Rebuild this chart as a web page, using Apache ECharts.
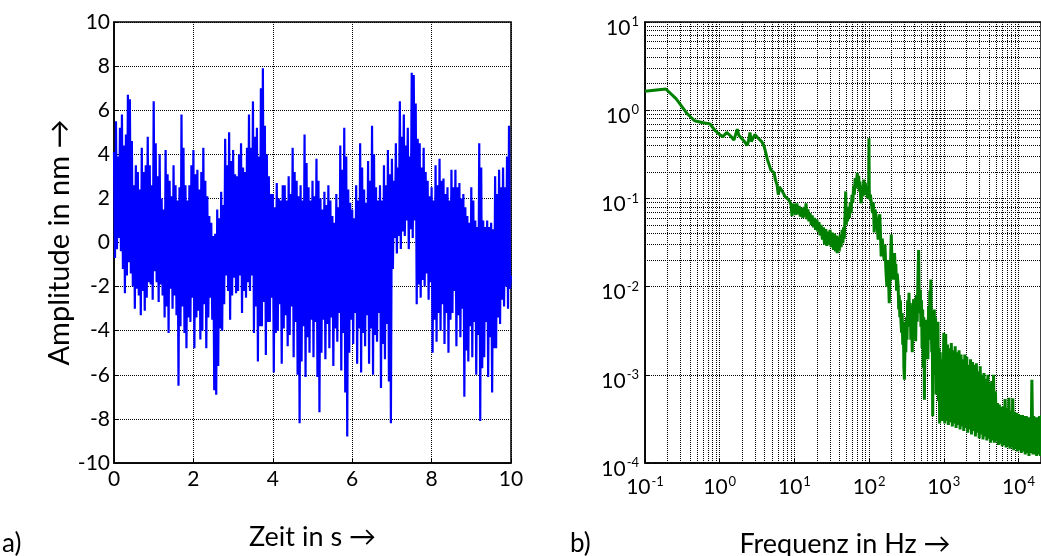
<!DOCTYPE html>
<html>
<head>
<meta charset="utf-8">
<script src="https://cdn.jsdelivr.net/npm/echarts@6/dist/echarts.min.js"></script>
<style>
html,body{margin:0;padding:0;background:#fff;}
#chart{width:1041px;height:556px;}
</style>
</head>
<body>
<div id="chart"></div>
<script>
// ---- Panel a): time signal, sampled every 0.025 s from 0 to 10 s ----
const timeStep = 0.025;
const amplitude = [
 4.1,-0.7,5.5,-0.3, 3.9,0.2,5.2,-0.4, 5.8,-1.2,4.4,-2.3, 4.9,-1.5,6.7,-0.9, 6.5,-1.4,4.6,-2.0,
 2.6,-3.0,3.5,-2.1, 3.2,-2.4,2.4,-3.3, 4.3,-2.2,3.2,-3.1, 3.5,-2.5,4.8,-1.8, 3.5,-1.9,2.6,-2.6,
 6.4,-1.3,4.5,-1.8, 3.0,-2.7,4.0,-1.9, 2.0,-2.4,1.5,-3.4, 4.2,-2.9,3.1,-4.1, 2.8,-2.1,2.1,-3.0,
 3.5,-2.4,2.6,-3.3, 1.9,-6.5,2.5,-3.8, 5.8,-2.9,4.3,-4.1, 2.6,-4.8,1.9,-3.4, 2.6,-3.6,3.5,-2.5,
 4.2,-4.8,3.1,-3.4, 3.3,-3.1,2.4,-4.4, 3.2,-4.0,4.3,-2.8, 2.8,-4.8,2.1,-3.4, 1.2,-2.5,0.9,-3.5,
 0.3,-6.7,0.4,-6.9, 1.5,-5.6,1.1,-3.9, 2.3,-4.0,1.7,-2.8, 4.7,-1.5,3.5,-2.2, 5.0,-3.5,3.7,-2.4,
 4.2,-1.6,3.1,-2.3, 3.0,-2.2,4.0,-1.5, 4.5,-3.2,3.4,-2.2, 3.2,-2.5,4.3,-1.8, 5.8,-2.2,4.3,-1.5,
 6.4,-4.1,4.8,-2.9, 5.2,-5.4,3.9,-3.8, 7.0,-3.8,7.9,-2.7, 5.3,-5.1,4.0,-3.6, 3.0,-3.6,2.2,-2.5,
 2.2,-5.9,1.6,-4.1, 2.7,-4.0,2.0,-2.8, 1.9,-5.5,2.6,-3.9, 2.6,-3.3,1.9,-4.7, 3.0,-4.2,2.2,-2.9,
 4.3,-5.2,3.2,-3.6, 2.8,-6.0,2.1,-8.2, 2.6,-5.4,1.9,-3.8, 4.9,-6.1,3.6,-4.3, 2.5,-5.0,1.9,-3.5,
 2.8,-5.2,2.1,-3.6, 3.8,-6.1,2.8,-7.7, 2.0,-5.0,1.5,-3.5, 2.3,-5.3,1.7,-3.7, 2.6,-4.8,1.9,-3.4,
 1.2,-5.6,0.9,-3.9, 2.2,-4.5,1.6,-3.2, 4.4,-5.8,3.3,-4.1, 5.2,-6.8,3.9,-8.8, 2.4,-5.0,1.8,-3.5,
 1.5,-4.6,1.1,-3.2, 2.6,-5.5,1.9,-3.9, 4.5,-5.9,3.4,-4.1, 2.4,-4.7,1.8,-3.3, 3.7,-5.5,2.8,-3.9,
 5.3,-6.0,4.0,-4.2, 2.5,-4.5,1.9,-3.2, 2.6,-6.6,1.9,-4.6, 3.5,-5.3,2.6,-3.7, 4.2,-6.3,3.1,-8.2,
 3.8,-1.2,2.8,0.2, 4.5,-0.5,3.4,0.3, 6.4,-0.3,4.8,0.5, 5.8,0.3,4.4,1.0, 5.2,-0.3,3.9,0.6,
 7.7,0.2,7.6,1.0, 6.3,-2.8,4.7,-1.9, 4.5,-2.5,3.4,-1.7, 4.3,-2.0,3.2,-1.4, 2.8,-2.6,2.1,-1.8,
 2.5,-5.0,1.9,-3.5, 3.5,-4.5,2.6,-3.2, 3.8,-4.0,2.8,-2.8, 2.9,-4.6,2.2,-3.2, 2.5,-5.0,1.9,-3.5,
 3.3,-3.2,2.5,-2.2, 3.3,-4.7,2.5,-3.3, 2.7,-4.3,2.0,-3.0, 2.2,-7.0,1.6,-4.9, 1.2,-5.4,0.9,-3.8,
 2.5,-5.2,1.9,-3.6, 1.0,-6.0,0.7,-4.2, 4.5,-8.1,3.4,-5.7, 1.0,-5.2,0.7,-3.6, 1.0,-6.1,0.7,-4.3,
 0.9,-6.8,0.6,-4.8, 3.0,-4.8,2.2,-3.4, 3.3,-3.7,2.5,-2.6, 3.4,-2.9,2.5,-2.0, 3.9,-3.0,5.3,-2.1,
 -1.5
];
const timeTicks = [0, 10, 2];       // min, max, step
const ampTicks = [-10, 10, 2];

// ---- Panel b): amplitude spectrum [frequency in Hz, amplitude] ----
const spectrumLow = [
 [0.1,1.64],[0.19,1.74],[0.26,1.35],[0.3,1.15],[0.36,0.93],[0.46,0.76],[0.6,0.72],[0.74,0.70],
 [0.85,0.60],[1.0,0.53],[1.1,0.50],[1.24,0.56],[1.4,0.51],[1.55,0.46],[1.72,0.61],[1.8,0.52],
 [1.91,0.50],[2.1,0.45],[2.34,0.40],[2.45,0.46],[2.54,0.56],[2.65,0.44],[2.73,0.45],[2.96,0.53],
 [3.2,0.49],[3.4,0.50],[3.65,0.44],[3.93,0.39],[4.1,0.34],[4.36,0.275],[4.6,0.24],[4.83,0.21],
 [5.1,0.20],[5.34,0.195],[5.6,0.16],[5.85,0.143],[6.1,0.11],[6.3,0.135],[6.6,0.13],[6.9,0.12],
 [7.2,0.115],[7.5,0.105],[7.9,0.10],[8.2,0.098],[8.6,0.093],[9.0,0.085],[9.3,0.063],[9.5,0.08],[9.8,0.087]
];
const spectrumMid = [
 [10.0,0.085],[10.4,0.065],[10.8,0.088],[11.2,0.066],[11.6,0.082],[12.0,0.062],[12.6,0.078],[13.0,0.06],
 [13.5,0.08],[14.0,0.062],[14.3,0.088],[14.7,0.058],[15.2,0.075],[15.6,0.055],[16.2,0.068],[16.8,0.05],
 [17.3,0.064],[18.0,0.047],[18.6,0.06],[19.2,0.044],[20.0,0.058],[20.6,0.042],[21.3,0.054],[22.0,0.038],
 [22.8,0.05],[23.7,0.034],[24.5,0.047],[25.3,0.03],[26.3,0.045],[27.2,0.029],[28.0,0.042],[29.0,0.03],
 [30.0,0.044],[31.0,0.028],[32.2,0.041],[33.3,0.026],[34.5,0.04],[35.5,0.025],[36.5,0.038],[37.5,0.024],
 [38.6,0.037],[39.8,0.025],[41.0,0.039],[42.2,0.028],[43.5,0.044],[44.6,0.031],[45.5,0.047],[46.5,0.035],
 [47.5,0.06],[48.6,0.12],[49.5,0.05],[50.5,0.075],[51.5,0.055],[53,0.08],[54.5,0.06],[56,0.09],
 [57.5,0.068],[59,0.11],[60.5,0.09],[62,0.14],[63.5,0.11],[65,0.17],[66.5,0.13],[68,0.16],
 [69.5,0.195],[71,0.14],[72.5,0.18],[74,0.12],[75.5,0.155],[77,0.1],[78.5,0.088],[80,0.12],
 [81.5,0.14],[83,0.105],[85,0.163],[87,0.12],[89,0.15],[91,0.11],[93,0.13],[95,0.1],
 [97,0.137],[98.5,0.12],[99.5,0.48],[100.5,0.12],[102,0.097],[104,0.11]
];
const spectrumUpper = [
 [111,0.068],[114,0.09],[117,0.041],[120,0.075],[124,0.063],[128,0.05],[132,0.034],[135,0.055],
 [139,0.066],[142,0.04],[145,0.022],[150,0.035],[155,0.025],[159,0.02],[163,0.03],[168,0.015],
 [173,0.01],[178,0.02],[182,0.012],[186,0.0065],[190,0.012],[194,0.02],[198,0.039],[202,0.02],
 [206,0.012],[210,0.017],[214,0.012],[219,0.024],[224,0.015],[228,0.018],[233,0.009],[238,0.014],
 [245,0.01],[249,0.0055],[253,0.008],[258,0.0045],[262,0.007],[267,0.004],[272,0.003],[277,0.005],
 [282,0.0022],[287,0.004],[292,0.0012],[297,0.00088],[302,0.002],[306,0.003],[310,0.0018],[316,0.0045],
 [322,0.0025],[328,0.007],[334,0.0035],[342,0.0085],[348,0.004],[355,0.0065],[362,0.0025],[370,0.0055],
 [378,0.0018],[386,0.005],[395,0.0072],[403,0.003],[412,0.006],[420,0.0024],[430,0.008],[440,0.004],
 [450,0.012],[460,0.026],[468,0.008],[476,0.005],[485,0.0092],[494,0.0035],[503,0.007],[512,0.002],
 [521,0.0055],[530,0.0012],[540,0.0045],[550,0.00052],[560,0.003],[570,0.0015],[580,0.0042],[590,0.0022],
 [600,0.0036],[612,0.0015],[625,0.006],[637,0.0025],[650,0.009],[660,0.003],[670,0.012],[680,0.0035],
 [690,0.0018],[700,0.0055],[710,0.00034],[720,0.004],[733,0.0012],[746,0.0055],[760,0.001],[775,0.0045],
 [790,0.0006],[805,0.003],[820,0.0008],[835,0.004],[850,0.0005],[865,0.002],[880,0.00028],[895,0.0018],
 [910,0.0004],[925,0.0015],[940,0.0003],[955,0.0012],[970,0.00035],[985,0.001]
];
const spectrumHigh = [
 [1000,3.0e-3],[1030,2.8e-4],[1060,2.9e-3],[1090,3.0e-4],[1120,2.2e-3],[1150,2.7e-4],[1190,2.0e-3],[1220,2.9e-4],
 [1260,2.3e-3],[1300,2.6e-4],[1340,1.9e-3],[1380,2.8e-4],[1420,2.1e-3],[1460,2.5e-4],[1500,1.8e-3],[1550,2.7e-4],
 [1600,1.9e-3],[1650,2.4e-4],[1700,1.7e-3],[1750,2.6e-4],[1800,1.5e-3],[1850,2.3e-4],[1910,1.7e-3],[1970,2.5e-4],
 [2030,1.6e-3],[2090,2.2e-4],[2150,1.3e-3],[2220,2.4e-4],[2280,1.5e-3],[2350,2.1e-4],[2420,1.4e-3],[2500,2.3e-4],
 [2570,1.3e-3],[2650,2.0e-4],[2730,1.35e-3],[2810,2.2e-4],[2890,1.1e-3],[2980,1.9e-4],[3070,1.25e-3],[3160,2.1e-4],
 [3260,1.0e-3],[3350,1.85e-4],[3450,1.05e-3],[3560,2.0e-4],[3660,9e-4],[3770,1.8e-4],[3890,1.0e-3],[4000,1.9e-4],
 [4120,8e-4],[4250,1.7e-4],[4370,8.5e-4],[4500,1.8e-4],[4640,1.0e-3],[4780,1.7e-4],[4920,6.5e-4],[5070,1.75e-4],
 [5220,4.8e-4],[5380,1.6e-4],[5540,4.6e-4],[5700,1.65e-4],[5880,4.3e-4],[6050,1.55e-4],[6230,4.4e-4],[6420,1.6e-4],
 [6610,5.3e-4],[6810,1.5e-4],[7020,4.2e-4],[7230,1.55e-4],[7440,5.5e-4],[7670,1.45e-4],[7900,3.9e-4],[8130,1.5e-4],
 [8380,5.4e-4],[8630,1.4e-4],[8890,3.8e-4],[9150,1.45e-4],[9430,3.7e-4],[9710,1.35e-4],[10000,3.6e-4],[10300,1.4e-4],
 [10600,3.5e-4],[10900,1.3e-4],[11300,3.5e-4],[11600,1.35e-4],[11900,3.4e-4],[12300,1.25e-4],[12700,3.4e-4],[13000,1.3e-4],
 [13400,3.3e-4],[13800,1.2e-4],[14200,3.3e-4],[14700,1.3e-4],[15100,8.8e-4],[15600,1.25e-4],[16000,3.4e-4],[16500,1.25e-4],
 [17000,3.3e-4],[17500,1.2e-4],[18000,3.3e-4],[18600,1.25e-4],[19100,3.4e-4],[19700,1.2e-4],[20300,3.5e-4]
];
const freqRange = [0.1, 20000];
const specRange = [1e-4, 10];

// ---- build ----
const FONT = 'Lato, "Noto Sans", sans-serif';
const timeData = amplitude.map((v, i) => [i * timeStep, v]);
const specData = spectrumLow.concat(spectrumMid, spectrumUpper, spectrumHigh);

// minor log grid lines (2..9 x 10^k) inside the axis ranges
function minorLines(lo, hi) {
  const out = [];
  for (let e = Math.floor(Math.log10(lo)); e <= Math.ceil(Math.log10(hi)); e++) {
    for (let m = 2; m <= 9; m++) {
      const v = m * Math.pow(10, e);
      if (v > lo && v < hi) out.push(v);
    }
  }
  return out;
}
const gridMarks = minorLines(freqRange[0], freqRange[1]).map(v => ({xAxis: v}))
  .concat(minorLines(specRange[0], specRange[1]).map(v => ({yAxis: v})));

const dotted = {type: [1, 1], color: '#000', width: 1};
function pow10Label(v) {
  const e = Math.round(Math.log10(v));
  return '10{e|' + e + '}';
}
const supRich = {
  e: {fontSize: 13, fontFamily: FONT, color: '#000', verticalAlign: 'top', padding: [0, 0, 12, 1]}
};
const TICK_FS = 21, NAME_FS = 27;

const chart = echarts.init(document.getElementById('chart'), null, {renderer: 'canvas'});
chart.setOption({
  animation: false,
  backgroundColor: '#fff',
  textStyle: {fontFamily: FONT},
  grid: [
    {left: 114, top: 22, width: 397, height: 441, show: true, borderColor: '#000', borderWidth: 1.5, backgroundColor: 'transparent'},
    {left: 645, top: 22, width: 396, height: 441, show: true, borderColor: '#000', borderWidth: 1.5, backgroundColor: 'transparent'}
  ],
  xAxis: [
    {
      gridIndex: 0, type: 'value', min: timeTicks[0], max: timeTicks[1], interval: timeTicks[2],
      name: 'Zeit in s \u2192', nameLocation: 'middle', nameGap: 61,
      nameTextStyle: {fontSize: NAME_FS, color: '#000', fontFamily: FONT},
      axisLine: {show: true, onZero: false, lineStyle: {color: '#000', width: 1.5}},
      axisTick: {show: true, inside: true, length: 4, lineStyle: {color: '#000'}},
      axisLabel: {fontSize: TICK_FS, color: '#000', margin: 6, fontFamily: FONT},
      splitLine: {show: true, lineStyle: dotted}
    },
    {
      gridIndex: 1, type: 'log', logBase: 10, min: freqRange[0], max: freqRange[1],
      axisLine: {show: true, onZero: false, lineStyle: {color: '#000', width: 1.5}},
      axisTick: {show: true, inside: true, length: 4, lineStyle: {color: '#000'}},
      axisLabel: {fontSize: TICK_FS, color: '#000', margin: 12, fontFamily: FONT, formatter: pow10Label, rich: supRich},
      splitLine: {show: true, lineStyle: dotted}
    }
  ],
  yAxis: [
    {
      gridIndex: 0, type: 'value', min: ampTicks[0], max: ampTicks[1], interval: ampTicks[2],
      name: 'Amplitude in nm \u2192', nameLocation: 'middle', nameGap: 40, nameRotate: 90,
      nameTextStyle: {fontSize: 29, color: '#000', fontFamily: FONT},
      axisLine: {show: true, onZero: false, lineStyle: {color: '#000', width: 1.5}},
      axisTick: {show: true, inside: true, length: 4, lineStyle: {color: '#000'}},
      axisLabel: {fontSize: TICK_FS, color: '#000', margin: 4, fontFamily: FONT},
      splitLine: {show: true, lineStyle: dotted}
    },
    {
      gridIndex: 1, type: 'log', logBase: 10, min: specRange[0], max: specRange[1],
      axisLine: {show: true, onZero: false, lineStyle: {color: '#000', width: 1.5}},
      axisTick: {show: true, inside: true, length: 4, lineStyle: {color: '#000'}},
      axisLabel: {fontSize: TICK_FS, color: '#000', margin: 6, fontFamily: FONT, formatter: pow10Label, rich: supRich, padding: [12, 0, 0, 0]},
      splitLine: {show: true, lineStyle: dotted}
    }
  ],
  series: [
    {
      type: 'line', xAxisIndex: 0, yAxisIndex: 0, data: timeData,
      showSymbol: false, symbol: 'none', z: 3,
      lineStyle: {color: '#0000ff', width: 2.2}
    },
    {
      type: 'line', xAxisIndex: 1, yAxisIndex: 1, data: specData,
      showSymbol: false, symbol: 'none', z: 3,
      lineStyle: {color: '#008000', width: 3},
      markLine: {
        silent: true, z: 1, symbol: ['none', 'none'], animation: false,
        label: {show: false}, emphasis: {disabled: true},
        lineStyle: dotted,
        data: gridMarks
      }
    }
  ],
  graphic: [
    {type: 'text', left: 2, top: 531, style: {text: 'a)', font: '26px ' + FONT, fill: '#000'}},
    {type: 'text', left: 570, top: 531, style: {text: 'b)', font: '26px ' + FONT, fill: '#000'}},
    {type: 'text', x: 845, y: 544, style: {text: 'Frequenz in Hz \u2192', font: NAME_FS + 'px ' + FONT, fill: '#000', align: 'center', verticalAlign: 'middle'}}
  ]
});
</script>
</body>
</html>
